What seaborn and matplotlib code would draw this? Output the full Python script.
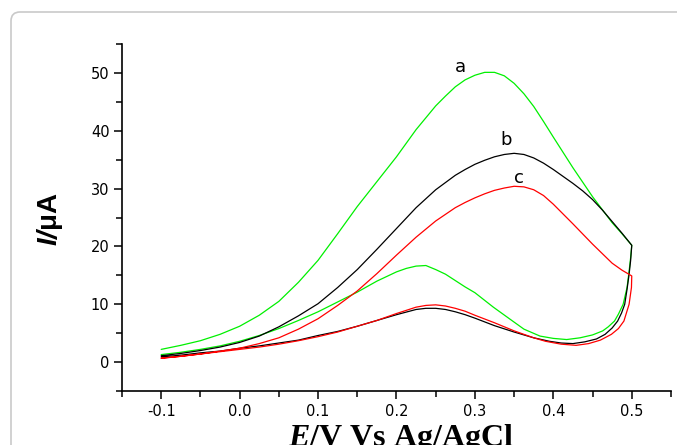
import pandas as pd
import matplotlib
matplotlib.use("Agg")
import matplotlib.pyplot as plt
from matplotlib.patches import FancyBboxPatch
from matplotlib.ticker import MultipleLocator
import seaborn as sns

# Curve a (green): forward sweep then reverse sweep, E in V, I in uA
e_a_fwd = [-0.1, -0.075, -0.05, -0.025, 0.0, 0.025, 0.05, 0.075, 0.1, 0.125, 0.15, 0.175,
           0.2, 0.225, 0.25, 0.2625, 0.275, 0.2875, 0.3, 0.3125, 0.325, 0.3375, 0.35,
           0.3625, 0.375, 0.3875, 0.4, 0.425, 0.45, 0.475, 0.4875, 0.5]
i_a_fwd = [2.2, 2.9, 3.7, 4.8, 6.2, 8.1, 10.5, 13.8, 17.6, 22.2, 26.9, 31.2,
           35.5, 40.2, 44.3, 46.0, 47.6, 48.8, 49.6, 50.1, 50.1, 49.5, 48.2,
           46.4, 44.2, 41.6, 38.9, 33.6, 28.6, 24.1, 22.2, 20.2]
e_a_rev = [0.5, 0.4985, 0.4966, 0.494, 0.489, 0.483, 0.478, 0.47, 0.463, 0.45, 0.434, 0.417,
           0.4, 0.383, 0.3625, 0.345, 0.3235, 0.3, 0.2875, 0.275, 0.2625, 0.25, 0.2375,
           0.225, 0.2125, 0.2, 0.175, 0.15, 0.125, 0.1, 0.075, 0.05, 0.025, 0.0,
           -0.025, -0.05, -0.075, -0.1]
i_a_rev = [20.2, 18.0, 15.7, 12.9, 10.0, 8.3, 7.1, 6.1, 5.4, 4.7, 4.2, 3.9,
           4.1, 4.5, 5.7, 7.4, 9.5, 12.0, 13.0, 14.1, 15.2, 16.0, 16.7,
           16.6, 16.2, 15.6, 14.0, 12.1, 10.4, 8.7, 7.2, 5.8, 4.6, 3.6,
           2.8, 2.2, 1.7, 1.3]

# Curve b (black)
e_b_fwd = [-0.1, -0.075, -0.05, -0.025, 0.0, 0.025, 0.05, 0.075, 0.1, 0.125, 0.15, 0.175,
           0.2, 0.225, 0.25, 0.275, 0.2875, 0.3, 0.3125, 0.325, 0.3375, 0.35, 0.3625,
           0.375, 0.3875, 0.4, 0.4125, 0.425, 0.4375, 0.45, 0.4625, 0.475, 0.4875, 0.5]
i_b_fwd = [1.1, 1.5, 2.0, 2.6, 3.4, 4.5, 6.1, 8.0, 10.1, 12.9, 16.0, 19.5,
           23.1, 26.7, 29.8, 32.3, 33.3, 34.2, 34.9, 35.5, 35.9, 36.1, 35.9,
           35.3, 34.4, 33.3, 32.1, 30.9, 29.6, 28.1, 26.3, 24.3, 22.3, 20.2]
e_b_rev = [0.5, 0.4985, 0.4966, 0.494, 0.491, 0.487, 0.482, 0.475, 0.466, 0.455, 0.44,
           0.425, 0.41, 0.395, 0.375, 0.35, 0.325, 0.3, 0.2875, 0.275, 0.2625, 0.25,
           0.2375, 0.225, 0.2, 0.175, 0.15, 0.125, 0.1, 0.075, 0.05, 0.025, 0.0,
           -0.025, -0.05, -0.075, -0.1]
i_b_rev = [20.2, 17.5, 15.2, 12.6, 10.0, 8.5, 7.1, 5.9, 4.8, 4.0, 3.5,
           3.2, 3.3, 3.6, 4.2, 5.2, 6.3, 7.6, 8.2, 8.7, 9.1, 9.3,
           9.3, 9.1, 8.2, 7.2, 6.2, 5.3, 4.6, 3.8, 3.3, 2.8, 2.4,
           1.9, 1.6, 1.2, 0.9]

# Curve c (red)
e_c_fwd = [-0.1, -0.075, -0.05, -0.025, 0.0, 0.025, 0.05, 0.075, 0.1, 0.125, 0.15, 0.175,
           0.2, 0.225, 0.25, 0.275, 0.2875, 0.3, 0.3125, 0.325, 0.3375, 0.35, 0.3625,
           0.375, 0.3875, 0.4, 0.4125, 0.425, 0.45, 0.475, 0.4875, 0.5]
i_c_fwd = [0.65, 1.0, 1.4, 1.9, 2.4, 3.2, 4.2, 5.7, 7.5, 9.8, 12.3, 15.3,
           18.5, 21.6, 24.4, 26.7, 27.6, 28.4, 29.1, 29.7, 30.1, 30.4, 30.3,
           29.8, 28.8, 27.3, 25.6, 23.9, 20.4, 17.1, 15.9, 14.9]
e_c_rev = [0.5, 0.4996, 0.4966, 0.49, 0.483, 0.474, 0.46, 0.445, 0.429, 0.41, 0.39,
           0.375, 0.35, 0.325, 0.3, 0.2875, 0.275, 0.2625, 0.25, 0.2375, 0.225, 0.2,
           0.175, 0.15, 0.125, 0.1, 0.075, 0.05, 0.025, 0.0, -0.025, -0.05, -0.075, -0.1]
i_c_rev = [14.9, 12.9, 10.0, 7.1, 5.8, 4.8, 3.8, 3.2, 2.9, 3.1, 3.6,
           4.2, 5.4, 6.8, 8.1, 8.8, 9.3, 9.7, 9.9, 9.8, 9.5, 8.4,
           7.2, 6.2, 5.2, 4.4, 3.7, 3.1, 2.6, 2.2, 1.8, 1.4, 1.0, 0.7]

curve_names = ["a", "b", "c"]
curve_colors = ["#00f000", "black", "#ff0000"]
label_pos = [(0.282, 51.0), (0.340, 38.4), (0.356, 31.8)]

sns.set_style("ticks")
plt.rcParams["font.family"] = ["DejaVu Sans"]
plt.rcParams["axes.unicode_minus"] = False
plt.rcParams["text.color"] = "black"
plt.rcParams["xtick.color"] = "black"
plt.rcParams["ytick.color"] = "black"
plt.rcParams["mathtext.fontset"] = "custom"
plt.rcParams["mathtext.it"] = "Liberation Serif:italic:bold"
plt.rcParams["mathtext.sf"] = "Liberation Sans:italic:bold"

sweeps = {
    "a": (e_a_fwd + e_a_rev, i_a_fwd + i_a_rev),
    "b": (e_b_fwd + e_b_rev, i_b_fwd + i_b_rev),
    "c": (e_c_fwd + e_c_rev, i_c_fwd + i_c_rev),
}
frames = []
for name in curve_names:
    e, i = sweeps[name]
    frames.append(pd.DataFrame({"E": e, "I": i, "curve": name}))
df = pd.concat(frames, ignore_index=True)

fig = plt.figure(figsize=(6.77, 4.45), dpi=100)

# light rounded frame round the figure
fig.add_artist(FancyBboxPatch((0.11, -1.0), 7.5, 5.33, transform=fig.dpi_scale_trans,
                              boxstyle="round,pad=0,rounding_size=0.09",
                              facecolor="none", edgecolor="#c9c9c9", linewidth=1.2))

ax = fig.add_axes([0.1802, 0.1213, 0.8109, 0.7798])
ax.set_facecolor("none")
for name, color in zip(curve_names, curve_colors):
    sns.lineplot(data=df[df["curve"] == name], x="E", y="I", sort=False, estimator=None,
                 color=color, linewidth=0.9, ax=ax)

for name, (x, y) in zip(curve_names, label_pos):
    ax.text(x, y, name, ha="center", va="center", fontsize=13, color="black")

ax.set_xlim(-0.15, 0.55)
ax.set_ylim(-5, 55)
ax.xaxis.set_major_locator(MultipleLocator(0.1))
ax.xaxis.set_minor_locator(MultipleLocator(0.05))
ax.yaxis.set_major_locator(MultipleLocator(10))
ax.yaxis.set_minor_locator(MultipleLocator(5))
ax.tick_params(which="major", length=6, width=1.1, labelsize=10.5, direction="out", pad=3,
               colors="black")
ax.tick_params(which="minor", length=4, width=1.1, direction="out", colors="black")
sns.despine(ax=ax)
for side in ["left", "bottom"]:
    ax.spines[side].set_linewidth(1.2)
    ax.spines[side].set_color("black")
ax.set_xlabel("")
ax.set_ylabel("")

fig.text(57 / 677, 1 - 219 / 445, r"$\mathsf{I/}$μA", rotation=90, rotation_mode="anchor",
         ha="center", va="baseline", fontsize=20, fontweight="bold", family="Liberation Sans",
         color="black")
fig.text(401 / 677, -0.003, r"$E$/V Vs Ag/AgCl", ha="center", va="baseline",
         fontsize=23, fontweight="bold", family="Liberation Serif", color="black")

fig.savefig("out.png", dpi=100)
